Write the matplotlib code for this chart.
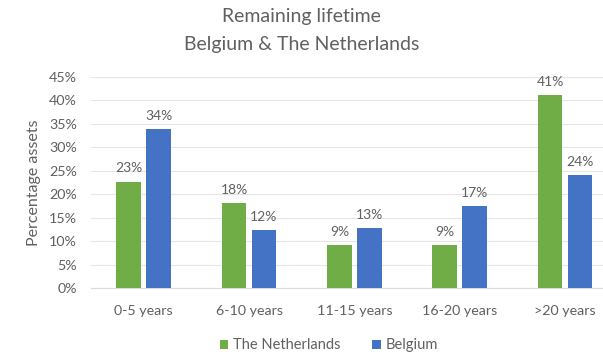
import numpy as np
import matplotlib.pyplot as plt

plt.rcParams['font.family'] = ['Lato', 'DejaVu Sans']

# data
categories = ['0-5 years', '6-10 years', '11-15 years', '16-20 years', '>20 years']
netherlands = [22.7, 18.1, 9.2, 9.1, 41.1]
belgium = [33.9, 12.3, 12.7, 17.4, 24.0]
y_ticks = [0, 5, 10, 15, 20, 25, 30, 35, 40, 45]

green = '#70AD47'
blue = '#4472C4'
grey = '#606060'

fig = plt.figure(figsize=(6.03, 3.56), dpi=100)
ax = fig.add_axes([0.151, 0.191, 0.849, 0.593])

x = np.arange(len(categories))
w = 0.235
off = 0.142
b1 = ax.bar(x - off, netherlands, w, color=green, label='The Netherlands', zorder=3)
b2 = ax.bar(x + off, belgium, w, color=blue, label='Belgium', zorder=3)

# data labels above the bars
for bars, vals in ((b1, netherlands), (b2, belgium)):
    for b, v in zip(bars, vals):
        ax.text(b.get_x() + b.get_width() / 2, v + 1.5, '%d%%' % round(v),
                ha='center', va='bottom', fontsize=10, color=grey)

ax.set_ylim(0, 45)
ax.set_xlim(-0.5, 4.36)
ax.set_yticks(y_ticks)
ax.set_yticklabels(['%d%%' % t for t in y_ticks])
ax.set_xticks(x)
ax.set_xticklabels(categories)
ax.tick_params(length=0, colors=grey, labelsize=10.3)
ax.tick_params(axis='x', pad=12)
ax.tick_params(axis='y', pad=10)
ax.grid(axis='y', color='#E6E6E6', linewidth=0.8, zorder=0)
for s in ax.spines.values():
    s.set_visible(False)
ax.spines['bottom'].set_visible(True)
ax.spines['bottom'].set_color('#D9D9D9')

ax.set_ylabel('Percentage assets', color=grey, fontsize=11.5)
ax.yaxis.set_label_coords(-0.097, 0.5)

fig.text(0.5, 0.953, 'Remaining lifetime', ha='center', va='center', fontsize=14, color=grey)
fig.text(0.5, 0.874, 'Belgium & The Netherlands', ha='center', va='center', fontsize=14, color=grey)

fig.legend(handles=[b1, b2], loc='center', bbox_to_anchor=(0.545, 0.03), ncol=2,
           frameon=False, fontsize=10.5, labelcolor=grey, handlelength=0.6,
           handleheight=0.6, handletextpad=0.3, columnspacing=2.2)

fig.savefig('out.png', dpi=100)
